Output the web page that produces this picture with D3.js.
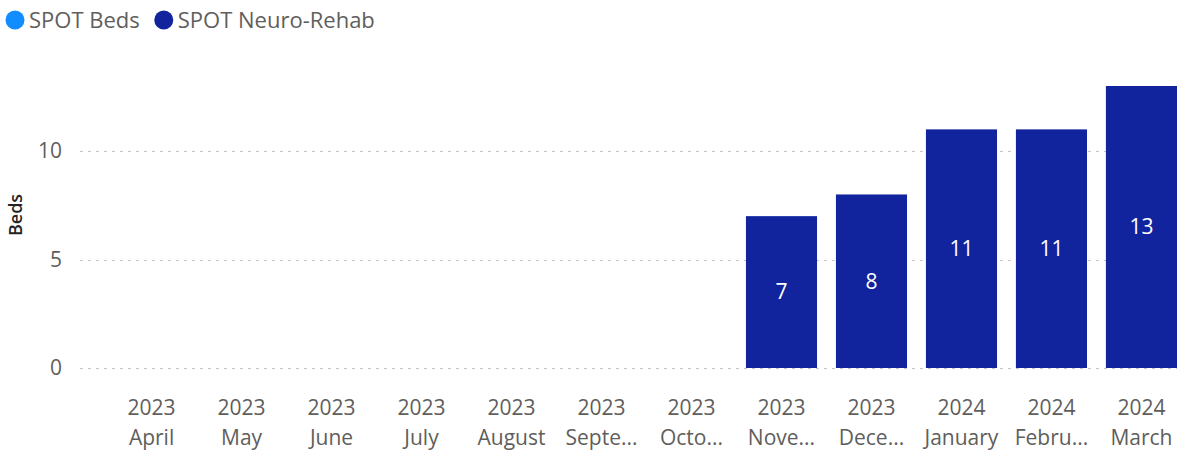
<!DOCTYPE html>
<html>
<head>
<meta charset="utf-8">
<script src="https://cdn.jsdelivr.net/npm/d3@7"></script>
<style>
  body { margin: 0; background: #fff; }
  svg { display: block; }
  svg text { font-family: "Segoe UI", "Open Sans", sans-serif; }
</style>
</head>
<body>
<div id="chart"></div>
<script>
// data
const years = ['2023', '2023', '2023', '2023', '2023', '2023', '2023', '2023', '2023', '2024', '2024', '2024'];
const monthLabels = ['April', 'May', 'June', 'July', 'August', 'Septe...', 'Octo...', 'Nove...', 'Dece...', 'January', 'Febru...', 'March'];
const spotBeds = [null, null, null, null, null, null, null, null, null, null, null, null];
const neuroRehab = [null, null, null, null, null, null, null, 7, 8, 11, 11, 13];
const yTicks = [0, 5, 10];
const legendNames = ['SPOT Beds', 'SPOT Neuro-Rehab'];
const legendColors = ['#118DFF', '#12239E'];

const width = 1181;
const height = 453;

const svg = d3.select('#chart')
  .append('svg')
  .attr('width', width)
  .attr('height', height);

const keys = d3.range(years.length);

const x = d3.scaleBand()
  .domain(keys)
  .range([107, 1186])
  .paddingInner(0.21)
  .paddingOuter(0.1);

const y = d3.scaleLinear()
  .domain([0, 13])
  .range([368, 86]);

// gridlines
svg.append('g')
  .selectAll('line')
  .data(yTicks)
  .enter()
  .append('line')
  .attr('x1', 80)
  .attr('x2', 1177)
  .attr('y1', d => Math.round(y(d)) + 0.5)
  .attr('y2', d => Math.round(y(d)) + 0.5)
  .attr('stroke', '#C8C6C4')
  .attr('stroke-width', 1.2)
  .attr('stroke-dasharray', '3,5');

// y axis labels
const yAxis = svg.append('g')
  .attr('transform', 'translate(62,0)')
  .call(d3.axisLeft(y).tickValues(yTicks).tickSize(0).tickPadding(0));
yAxis.attr('font-family', null);
yAxis.select('.domain').remove();
yAxis.selectAll('text')
  .attr('fill', '#605E5C')
  .style('font-size', '21px');

svg.append('text')
  .attr('transform', 'translate(22,215) rotate(-90)')
  .attr('text-anchor', 'middle')
  .attr('fill', '#252423')
  .style('font-size', '18px')
  .style('font-weight', 600)
  .text('Beds');

// x axis labels (two lines)
const xAxis = svg.append('g')
  .attr('transform', 'translate(0,368)')
  .call(d3.axisBottom(x).tickSize(0).tickFormat(() => ''));
xAxis.attr('font-family', null);
xAxis.select('.domain').remove();
xAxis.selectAll('.tick text').remove();
xAxis.selectAll('.tick')
  .append('text')
  .attr('text-anchor', 'middle')
  .attr('fill', '#605E5C')
  .style('font-size', '21px')
  .each(function (d) {
    const t = d3.select(this);
    t.append('tspan').attr('x', 0).attr('y', 47).text(years[d]);
    t.append('tspan').attr('x', 0).attr('y', 77).text(monthLabels[d]);
  });

// bars
const barData = keys.filter(i => neuroRehab[i] != null);
svg.selectAll('rect.bar')
  .data(barData)
  .enter()
  .append('rect')
  .attr('class', 'bar')
  .attr('x', i => x(i))
  .attr('y', i => y(neuroRehab[i]))
  .attr('width', x.bandwidth())
  .attr('height', i => y(0) - y(neuroRehab[i]))
  .attr('fill', legendColors[1]);

// data labels
svg.selectAll('text.lbl')
  .data(barData)
  .enter()
  .append('text')
  .attr('class', 'lbl')
  .attr('x', i => x(i) + x.bandwidth() / 2)
  .attr('y', i => (y(neuroRehab[i]) + y(0)) / 2)
  .attr('dy', '0.35em')
  .attr('text-anchor', 'middle')
  .attr('fill', '#fff')
  .style('font-size', '21px')
  .text(i => neuroRehab[i]);

// legend
const legend = svg.append('g');
let lx = 5;
legendNames.forEach((name, i) => {
  legend.append('circle')
    .attr('cx', lx + 10)
    .attr('cy', 20)
    .attr('r', 9.5)
    .attr('fill', legendColors[i]);
  const t = legend.append('text')
    .attr('x', lx + 24)
    .attr('y', 28)
    .attr('fill', '#605E5C')
    .style('font-size', '22px')
    .text(name);
  lx += 24 + t.node().getComputedTextLength() + 14;
});
</script>
</body>
</html>
